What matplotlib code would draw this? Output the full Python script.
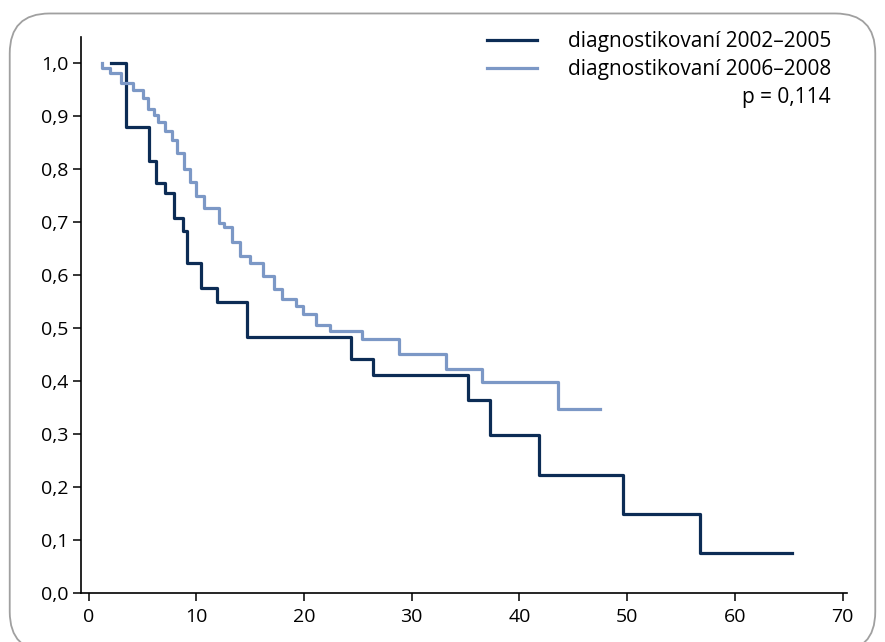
import matplotlib
matplotlib.use('Agg')
import matplotlib.pyplot as plt
from matplotlib.patches import FancyBboxPatch

plt.rcParams['font.family'] = ['Open Sans', 'DejaVu Sans']

# --- Kaplan-Meier steps (time in months, survival) ---
# diagnosed 2002-2005
t_early = [2.1, 3.5, 5.6, 6.27, 7.12, 7.9, 8.8, 9.17, 10.45, 11.95, 14.7,
           24.4, 26.4, 35.2, 37.3, 41.8, 49.65, 56.8]
s_early = [1.0, 0.88, 0.816, 0.774, 0.754, 0.707, 0.683, 0.622, 0.575, 0.549,
           0.484, 0.441, 0.411, 0.365, 0.298, 0.223, 0.150, 0.075]
end_early = 65.3

# diagnosed 2006-2008
t_late = [1.27, 1.27, 1.99, 3.0, 4.15, 5.08, 5.55, 6.1, 6.41, 7.09, 7.71, 8.18,
          8.85, 9.45, 10.0, 10.73, 12.1, 12.6, 13.35, 14.05, 15.0, 16.2, 17.2,
          18.0, 19.26, 19.93, 21.1, 22.4, 25.35, 28.85, 33.15, 36.5, 43.6]
s_late = [1.0, 0.99, 0.981, 0.963, 0.949, 0.935, 0.914, 0.902, 0.889, 0.872,
          0.855, 0.830, 0.80, 0.775, 0.750, 0.727, 0.699, 0.690, 0.663, 0.636,
          0.622, 0.599, 0.573, 0.555, 0.541, 0.526, 0.505, 0.494, 0.48, 0.451,
          0.423, 0.399, 0.347]
end_late = 47.5

labels = ['diagnostikovaní 2002–2005', 'diagnostikovaní 2006–2008']
p_text = 'p = 0,114'

x_ticks = [0, 10, 20, 30, 40, 50, 60, 70]
y_ticks = [0.0, 0.1, 0.2, 0.3, 0.4, 0.5, 0.6, 0.7, 0.8, 0.9, 1.0]
y_ticklabels = ['0,0', '0,1', '0,2', '0,3', '0,4', '0,5', '0,6', '0,7', '0,8', '0,9', '1,0']

dark = '#0c2c55'
light = '#7c98c6'

fig = plt.figure(figsize=(8.85, 6.42), dpi=100)
ax = fig.add_axes([0.0915, 0.0763, 0.8655, 0.8667])

# rounded frame around everything
frame = FancyBboxPatch((0.011, -0.015), 0.978, 0.994, transform=fig.transFigure,
                       boxstyle='round,pad=0,rounding_size=0.045',
                       facecolor='none', edgecolor='#a0a0a0', lw=1.3,
                       mutation_aspect=885 / 642, clip_on=False)
fig.patches.append(frame)

ax.step(t_early + [end_early], s_early + [s_early[-1]], where='post',
        color=dark, lw=2.3, label=labels[0])
ax.step(t_late + [end_late], s_late + [s_late[-1]], where='post',
        color=light, lw=2.3, label=labels[1])

ax.set_xlim(-0.7, 70.4)
ax.set_ylim(0, 1.05)
ax.set_xticks(x_ticks)
ax.set_yticks(y_ticks)
ax.set_yticklabels(y_ticklabels)

for side in ['top', 'right']:
    ax.spines[side].set_visible(False)
for side in ['left', 'bottom']:
    ax.spines[side].set_linewidth(1.2)
ax.tick_params(axis='both', direction='out', length=6, width=1.1, labelsize=14)
ax.tick_params(axis='x', pad=5)
ax.tick_params(axis='y', pad=3)

leg = ax.legend(loc='upper right', bbox_to_anchor=(0.99, 1.025), frameon=False,
                fontsize=15, handlelength=2.4, handletextpad=1.45,
                labelspacing=0.35, borderaxespad=0)
ax.text(0.979, 0.89, p_text, transform=ax.transAxes, ha='right', va='center',
        fontsize=15)

fig.savefig('out.png', dpi=100)
